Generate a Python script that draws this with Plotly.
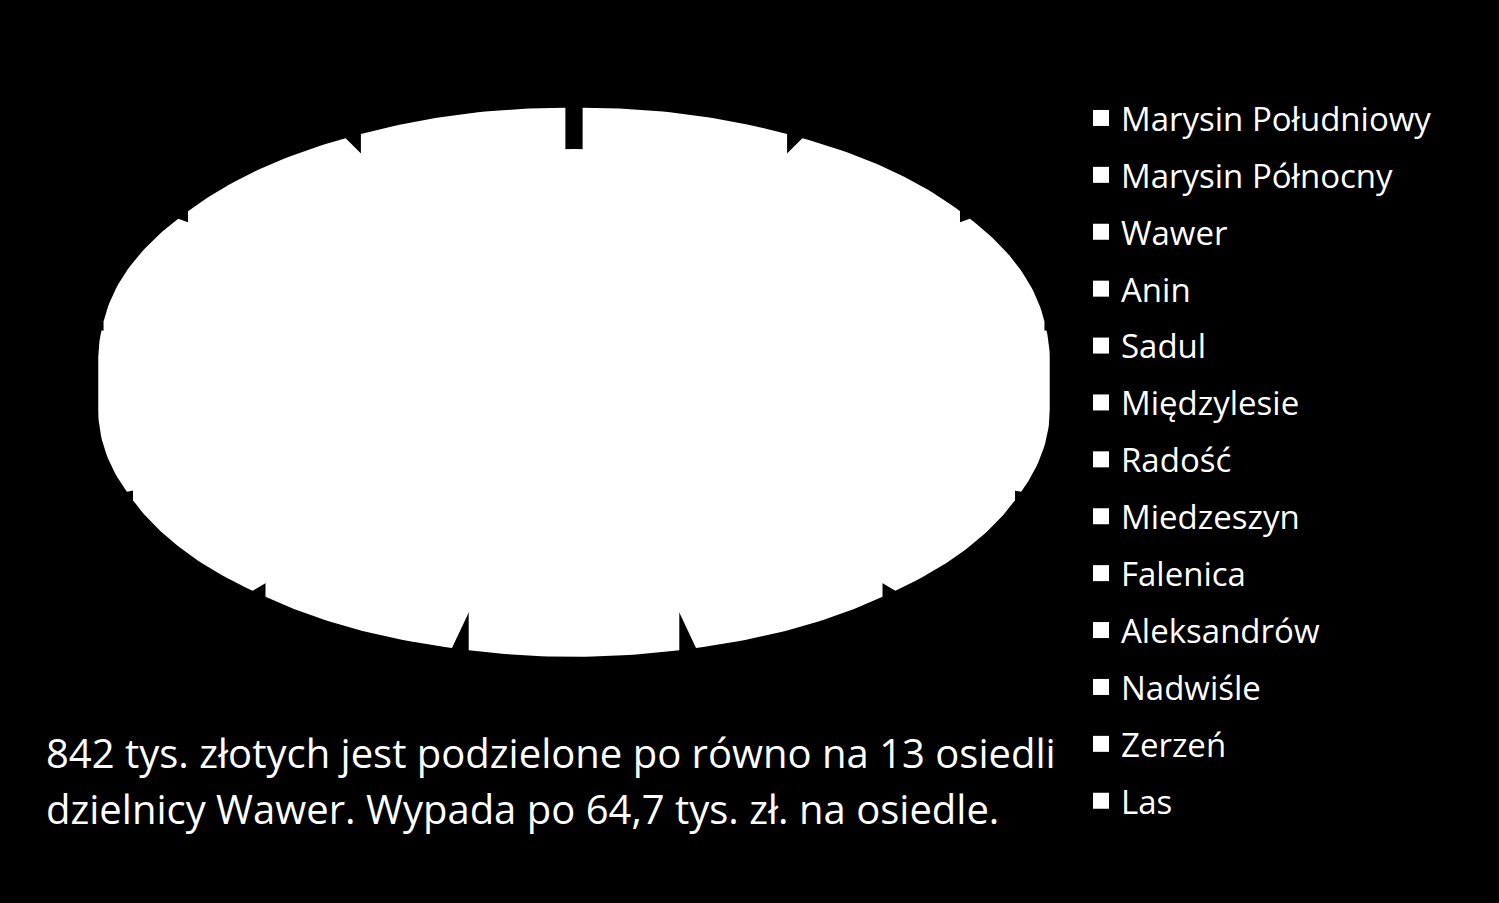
import numpy as np
import plotly.graph_objects as go

# 13 osiedli, equal shares of 842 tys. zł
osiedla = ["Marysin Południowy", "Marysin Północny", "Wawer", "Anin", "Sadul",
           "Międzylesie", "Radość", "Miedzeszyn", "Falenica", "Aleksandrów",
           "Nadwiśle", "Zerzeń", "Las"]
kwoty = [64.7] * 13

opis = ["842 tys. złotych jest podzielone po równo na 13 osiedli",
        "dzielnicy Wawer. Wypada po 64,7 tys. zł. na osiedle."]

# pie geometry (pixel space, y down)
cx, cy = 574, 356
R, r = 440, 230
explode = 36
depth = 52
core = 0.9


def hull(pts):
    pts = sorted(set(pts))
    def cross(o, a, b):
        return (a[0]-o[0])*(b[1]-o[1]) - (a[1]-o[1])*(b[0]-o[0])
    lo, up = [], []
    for p in pts:
        while len(lo) >= 2 and cross(lo[-2], lo[-1], p) <= 0:
            lo.pop()
        lo.append(p)
    for p in reversed(pts):
        while len(up) >= 2 and cross(up[-2], up[-1], p) <= 0:
            up.pop()
        up.append(p)
    return lo[:-1] + up[:-1]


def prism(top):
    pts = [(round(x, 3), round(y, 3)) for x, y in top]
    pts += [(x, y + depth) for x, y in pts]
    h = hull(pts)
    h.append(h[0])
    return [p[0] for p in h], [p[1] for p in h]


fig = go.Figure()

total = sum(kwoty)
start = 0.0
for name, v in zip(osiedla, kwoty):
    a0 = start / total * 2 * np.pi
    a1 = (start + v) / total * 2 * np.pi
    start += v
    mid = (a0 + a1) / 2
    ox = explode * np.sin(mid)
    oy = -explode * np.cos(mid) * r / R
    t = np.linspace(a0, a1, 30)
    top = [(cx + ox, cy + oy)]
    top += [(cx + ox + R * np.sin(a), cy + oy - r * np.cos(a)) for a in t]
    xs, ys = prism(top)
    fig.add_trace(go.Scatter(x=xs, y=ys, fill="toself", fillcolor="white",
                             mode="lines", line=dict(color="white", width=0),
                             showlegend=False, hoverinfo="skip"))

# inner body hides the gaps away from the rim
t = np.linspace(0, 2 * np.pi, 180)
xs, ys = prism([(cx + core * R * np.sin(a), cy - core * r * np.cos(a)) for a in t])
fig.add_trace(go.Scatter(x=xs, y=ys, fill="toself", fillcolor="white",
                         mode="lines", line=dict(color="white", width=0),
                         showlegend=False, hoverinfo="skip"))

for i, name in enumerate(osiedla):
    fig.add_trace(go.Scatter(x=[None], y=[None], mode="markers", name=name,
                             legendgroup=str(i),
                             marker=dict(symbol="square", size=20, color="white")))

for i, line in enumerate(opis):
    fig.add_annotation(text=line, xref="paper", yref="paper",
                       x=44 / 1499, y=1 - (752 + 56 * i) / 903,
                       xanchor="left", yanchor="middle", showarrow=False,
                       font=dict(family="Open Sans", size=40, color="white"))

fig.update_layout(
    width=1499,
    height=903,
    paper_bgcolor="black",
    plot_bgcolor="black",
    margin=dict(l=0, r=0, t=0, b=0),
    xaxis=dict(range=[0, 1499], visible=False),
    yaxis=dict(range=[903, 0], visible=False),
    legend=dict(x=1081 / 1499, y=1 - 90 / 903, xanchor="left", yanchor="top",
                font=dict(family="Open Sans", size=33, color="white"),
                tracegroupgap=11, bgcolor="rgba(0,0,0,0)"),
)

fig.write_html("out.html", config={"displayModeBar": False},
               post_script="document.body.style.margin='0';"
                           "document.body.style.background='black';")
